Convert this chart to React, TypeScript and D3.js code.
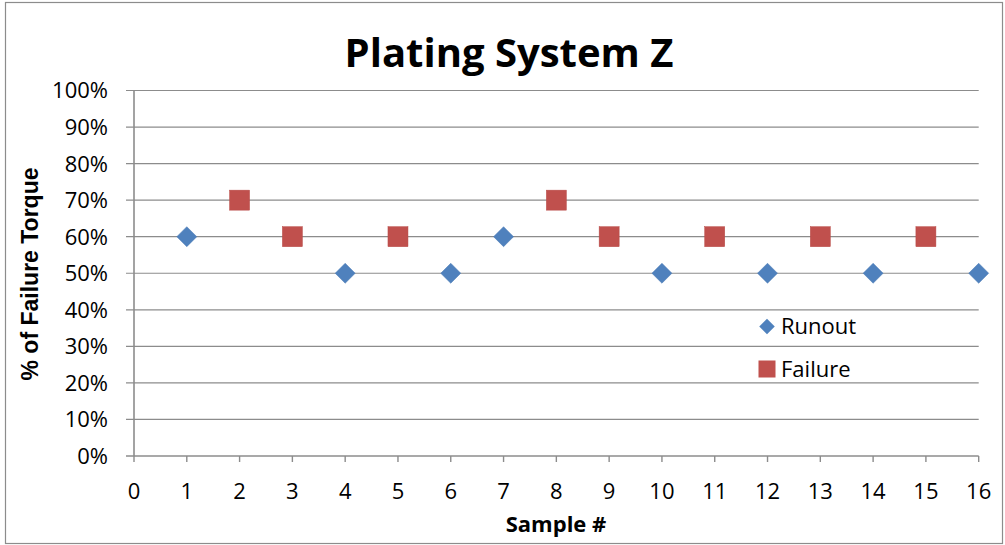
import React from "react";
import * as d3 from "d3";

const runoutX = [1, 4, 6, 7, 10, 12, 14, 16];
const runoutY = [60, 50, 50, 60, 50, 50, 50, 50];
const failureX = [2, 3, 5, 8, 9, 11, 13, 15];
const failureY = [70, 60, 60, 70, 60, 60, 60, 60];
const xTicks = d3.range(0, 17);
const yTicks = d3.range(0, 101, 10);

const W = 1005;
const H = 545;
const FONT = "'Open Sans', Lato, sans-serif";

export default function App() {
  const x = d3.scaleLinear().domain([0, 16]).range([134, 978.7]);
  const y = d3.scaleLinear().domain([0, 100]).range([456, 90.5]);
  const diamond = d3.symbol().type(d3.symbolSquare).size(200)();
  const grid = "#8c8c8c";
  return (
    <div style={{ position: "absolute", left: 0, top: 0 }}>
      <svg width={W} height={H} style={{ display: "block", fontFamily: FONT }}>
        <rect x={0} y={0} width={W} height={H} fill="#fff" />
        <rect x={5.5} y={2.5} width={997} height={541} fill="none" stroke="#8c8c8c" strokeWidth={1.2} />
        <text x={509} y={67} textAnchor="middle" fontSize={40} fontWeight="bold" fill="#000">
          Plating System Z
        </text>
        {yTicks.map((t) => (
          <g key={"y" + t}>
            <line x1={126} x2={978.7} y1={y(t)} y2={y(t)} stroke={grid} strokeWidth={t === 0 ? 1.6 : 1.2} />
            <text x={108} y={y(t)} dy="0.36em" textAnchor="end" fontSize={22} fill="#000">
              {t}%
            </text>
          </g>
        ))}
        <line x1={x(0)} x2={x(0)} y1={y(100)} y2={y(0)} stroke={grid} strokeWidth={1.6} />
        {xTicks.map((t) => (
          <g key={"x" + t}>
            <line x1={x(t)} x2={x(t)} y1={456} y2={462} stroke={grid} strokeWidth={1.4} />
            <text x={x(t)} y={499} textAnchor="middle" fontSize={22} fill="#000">
              {t}
            </text>
          </g>
        ))}
        <text x={556} y={532} textAnchor="middle" fontSize={22} fontWeight="bold" fill="#000">
          Sample #
        </text>
        <text
          transform={`translate(38,274) rotate(-90)`}
          textAnchor="middle"
          fontSize={23}
          fontWeight="bold"
          fontFamily="'Liberation Sans', Arial, sans-serif"
          fill="#000"
        >
          % of Failure Torque
        </text>
        {runoutX.map((v, i) => (
          <path
            key={"r" + i}
            d={diamond as string}
            transform={`translate(${x(v)},${y(runoutY[i])}) rotate(45)`}
            fill="#4F81BD"
            stroke="#4a7ab5"
            strokeWidth={0.5}
          />
        ))}
        {failureX.map((v, i) => (
          <rect
            key={"f" + i}
            x={x(v) - 10}
            y={y(failureY[i]) - 10}
            width={20}
            height={20}
            fill="#C0504D"
            stroke="#b84a47"
            strokeWidth={0.5}
          />
        ))}
        <path d={d3.symbol().type(d3.symbolSquare).size(120)() as string} transform="translate(767,326.5) rotate(45)" fill="#4F81BD" />
        <text x={781} y={326.5} dy="0.36em" fontSize={22} fill="#000">Runout</text>
        <rect x={758.5} y={360.5} width={17} height={17} fill="#C0504D" />
        <text x={781} y={369} dy="0.36em" fontSize={22} fill="#000">Failure</text>
      </svg>
    </div>
  );
}
